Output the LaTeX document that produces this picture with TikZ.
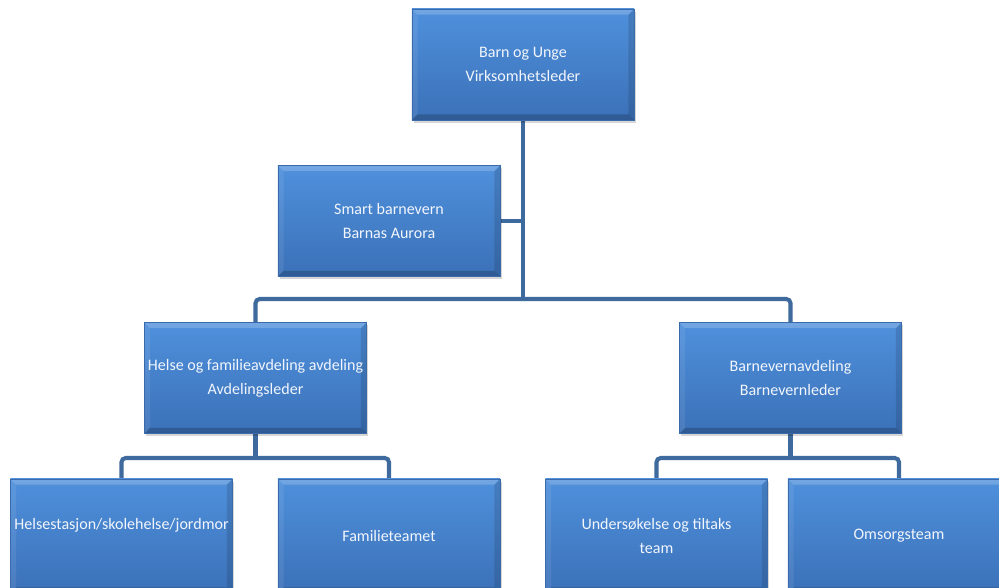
\documentclass[tikz,border=0pt]{standalone}
\usepackage{fontspec}
\setmainfont{Carlito}
\usetikzlibrary{positioning,shadows,backgrounds}

\definecolor{boxtop}{HTML}{4F90DC}
\definecolor{boxbot}{HTML}{3B71B8}
\definecolor{boxedge}{HTML}{3A6AAA}
\definecolor{linkcol}{HTML}{3E6A9E}
\definecolor{txtcol}{HTML}{F2F6FC}

\tikzset{
  orgbox/.style={rectangle, minimum width=5.55cm, minimum height=2.775cm,
    top color=boxtop, bottom color=boxbot, draw=boxedge, line width=0.3pt,
    text=txtcol, align=center, inner sep=1pt,
    font=\fontsize{11.4}{17}\selectfont,
    drop shadow={shadow xshift=1.2pt, shadow yshift=-2pt, opacity=0.16, fill=black},
    path picture={
      % bevel edges
      \fill[white, opacity=0.2] (path picture bounding box.north west) -- (path picture bounding box.north east)
        -- ([xshift=-4pt,yshift=-4pt]path picture bounding box.north east) -- ([xshift=4pt,yshift=-4pt]path picture bounding box.north west) -- cycle;
      \fill[white, opacity=0.08] (path picture bounding box.north west) -- ([xshift=4pt,yshift=-4pt]path picture bounding box.north west)
        -- ([xshift=4pt,yshift=4pt]path picture bounding box.south west) -- (path picture bounding box.south west) -- cycle;
      \fill[black, opacity=0.12] (path picture bounding box.north east) -- ([xshift=-4pt,yshift=-4pt]path picture bounding box.north east)
        -- ([xshift=-4pt,yshift=4pt]path picture bounding box.south east) -- (path picture bounding box.south east) -- cycle;
      \fill[black, opacity=0.2] (path picture bounding box.south west) -- ([xshift=4pt,yshift=4pt]path picture bounding box.south west)
        -- ([xshift=-4pt,yshift=4pt]path picture bounding box.south east) -- (path picture bounding box.south east) -- cycle;
    }},
  lowbox/.style={orgbox, minimum height=2.85cm},
  link/.style={draw=linkcol, line width=2.9pt, rounded corners=3pt}
}

\begin{document}
\begin{tikzpicture}[x=0.025cm, y=-0.025cm]
    % page frame
    \useasboundingbox (0,0) rectangle (999,587);

    % top levels
    \node[orgbox] (leder) at (523,64.5) {Barn og Unge\\Virksomhetsleder};
    \node[orgbox] (smart) at (389,221) {Smart barnevern\\Barnas Aurora};

    % departments
    \node[orgbox] (helse) at (255.5,378) {Helse og familieavdeling avdeling\\Avdelingsleder};
    \node[orgbox] (bvern) at (790.5,378) {Barnevernavdeling\\Barnevernleder};

    % teams
    \node[lowbox] (hstasjon) at (121.5,536) {Helsestasjon/skolehelse/jordmor\\\mbox{}};
    \node[lowbox] (familie)  at (389,536)   {Familieteamet};
    \node[lowbox] (undersok) at (656.5,536) {Undersøkelse og tiltaks\\team};
    \node[lowbox] (omsorg)   at (899,536)   {Omsorgsteam};

    % junction points
    \coordinate (hub)   at (523,299);
    \coordinate (hjunc) at (255.5,458);
    \coordinate (bjunc) at (790.5,458);

    \begin{scope}[on background layer]
        % Draw connectors
        \draw[link] (leder.south) -- (hub);
        \draw[link] (smart.east) -- (smart.east -| hub);
        \draw[link] (helse.north) |- (hub) -| (bvern.north);

        \draw[link] (helse.south) -- (hjunc);
        \draw[link] (hstasjon.north) |- (hjunc) -| (familie.north);

        \draw[link] (bvern.south) -- (bjunc);
        \draw[link] (undersok.north) |- (bjunc) -| (omsorg.north);
    \end{scope}
\end{tikzpicture}
\end{document}
